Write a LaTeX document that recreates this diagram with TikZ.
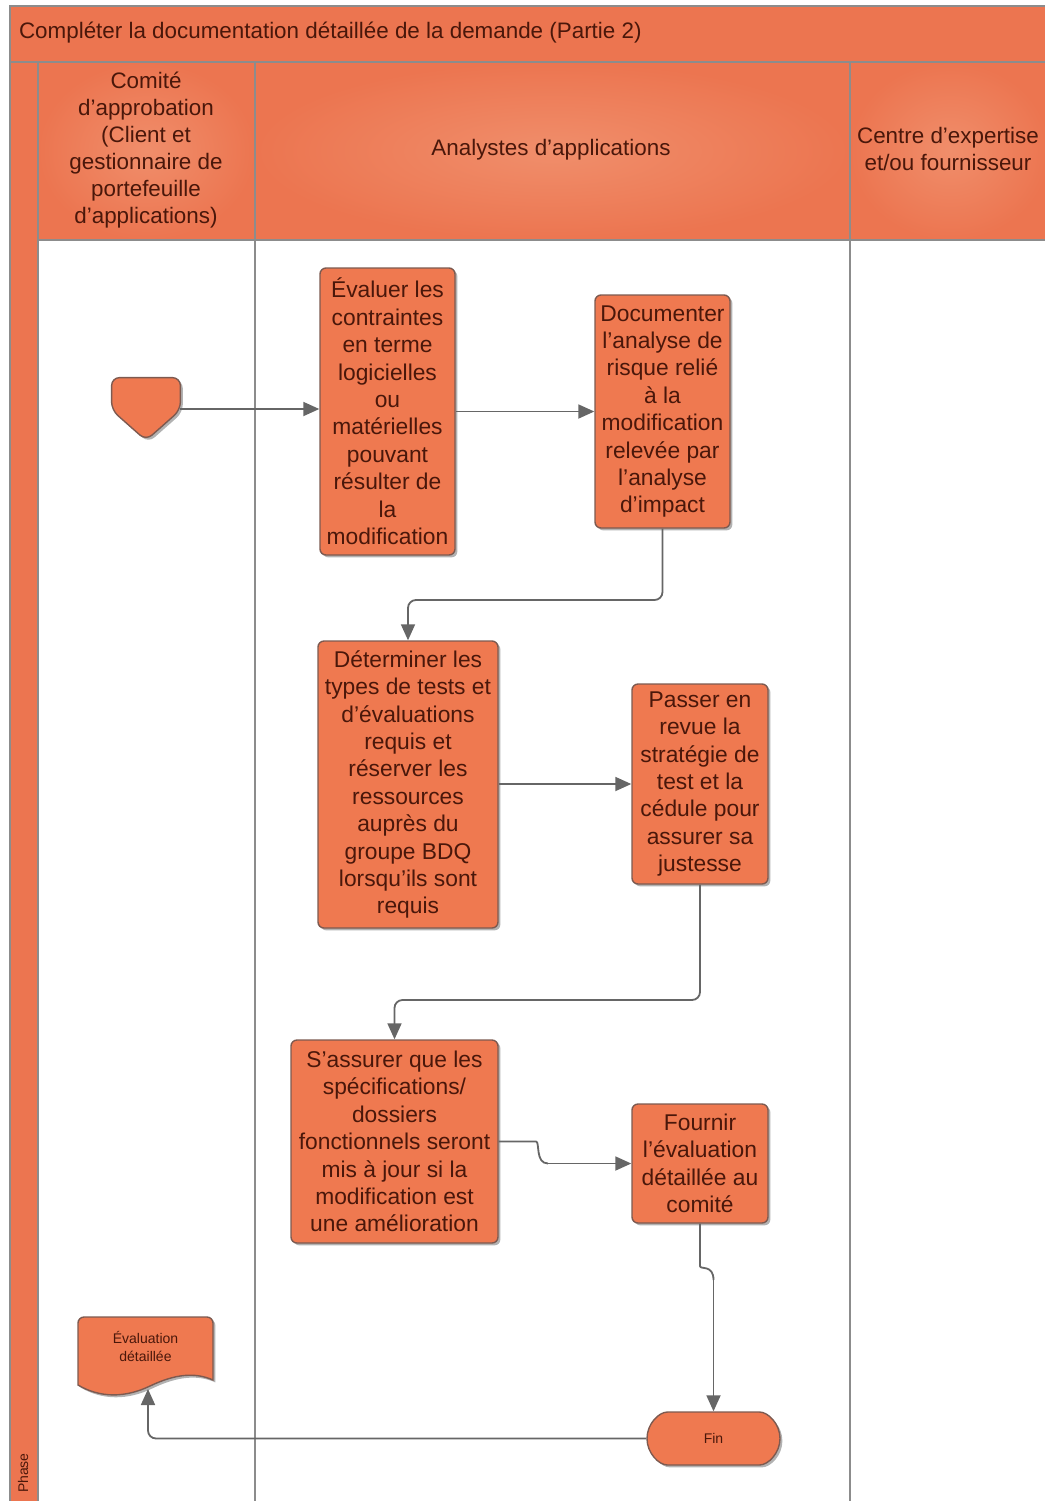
\documentclass[tikz,border=0pt]{standalone}
\usepackage{fontspec}
\setmainfont{Liberation Sans}
\usetikzlibrary{arrows.meta,shapes.misc,shadows,calc}
\definecolor{lanefill}{HTML}{EC7550}
\definecolor{headlight}{HTML}{F08E6B}
\definecolor{boxfill}{HTML}{EF7950}
\definecolor{boxline}{HTML}{7D5A50}
\definecolor{inktext}{HTML}{4A170A}
\definecolor{wire}{HTML}{666666}
\definecolor{frameline}{HTML}{8C8C8C}

\begin{document}
\begin{tikzpicture}[x=0.5pt,y=-0.5pt,
  boxshadow/.style={drop shadow={shadow xshift=1.2pt,shadow yshift=-1.2pt,fill=black,opacity=0.3}},
  task/.style={draw=boxline,line width=0.7pt,fill=boxfill,rounded corners=3pt,
    align=center,text=inktext,font=\fontsize{11.4}{13.7}\selectfont,
    inner sep=1pt,boxshadow},
  smalltext/.style={text=inktext,font=\fontsize{7}{9}\selectfont,align=center},
  headtext/.style={text=inktext,font=\fontsize{11.2}{13.5}\selectfont,align=center},
  laneline/.style={draw=frameline,line width=0.7pt},
  conn/.style={draw=wire,line width=0.9pt,rounded corners=4pt,
    -{Triangle[length=8pt,width=7pt]}},
  wire/.style={draw=wire,line width=0.9pt,rounded corners=4pt}]
\useasboundingbox (0,0) rectangle (1045,1501);

% ---- pool frame: title band, phase strip, lane headers
\fill[lanefill] (10,6) rectangle (1050,62);
\fill[lanefill] (10,62) rectangle (38,1505);
\shade[inner color=headlight,outer color=lanefill] (38,62) rectangle (255,240);
\shade[inner color=headlight,outer color=lanefill] (255,62) rectangle (850,240);
\shade[inner color=headlight,outer color=lanefill] (850,62) rectangle (1050,240);
\draw[laneline] (1050,6) -- (10,6) -- (10,1505);
\draw[laneline] (10,62) -- (1050,62);
\draw[laneline] (38,62) -- (38,1505);
\draw[laneline] (38,240) -- (1050,240);
\draw[laneline] (255,62) -- (255,1505);
\draw[laneline] (850,62) -- (850,1505);

\node[headtext,anchor=west] (title) at (12,33)
  {Compléter la documentation détaillée de la demande (Partie 2)};
\node[headtext] (lane1) at (146,150)
  {Comité\\d’approbation\\(Client et\\gestionnaire de\\portefeuille\\d’applications)};
\node[headtext] (lane2) at (551,150) {Analystes d’applications};
\node[headtext] (lane3) at (948,149) {Centre d’expertise\\et/ou fournisseur};
\node[smalltext,rotate=90,anchor=west] (phase) at (23,1500) {Phase};

% ---- start connector (off-page pentagon)
\node[minimum width=34pt,minimum height=31pt,inner sep=0pt] (start) at (146,409) {};
\path[draw=boxline,line width=0.7pt,fill=boxfill,rounded corners=4pt,boxshadow]
  (start.north west) -- (start.north east) -- ($(start.east)+(0,1)$)
  -- (start.south) -- ($(start.west)+(0,1)$) -- cycle;

% ---- activities
\node[task,minimum width=67.5pt,minimum height=143.5pt] (eval) at (387.5,411.5)
  {Évaluer les\\contraintes\\en terme\\logicielles\\ou\\matérielles\\pouvant\\résulter de\\la\\modification};
\node[task,minimum width=67.5pt,minimum height=116.5pt] (risk) at (662.5,411.5)
  {Documenter\\l’analyse de\\risque relié\\à la\\modification\\relevée par\\l’analyse\\d’impact};
\node[task,minimum width=90pt,minimum height=143.5pt] (tests) at (408,784.5)
  {Déterminer les\\types de tests et\\d’évaluations\\requis et\\réserver les\\ressources\\auprès du\\groupe BDQ\\lorsqu’ils sont\\requis};
\node[task,minimum width=68pt,minimum height=100pt] (review) at (700,784)
  {Passer en\\revue la\\stratégie de\\test et la\\cédule pour\\assurer sa\\justesse};
\node[task,minimum width=103.5pt,minimum height=101.5pt] (specs) at (394.5,1141.5)
  {S’assurer que les\\spécifications/\\dossiers\\fonctionnels seront\\mis à jour si la\\modification est\\une amélioration};
\node[task,minimum width=68pt,minimum height=59.5pt] (give) at (700,1163.5)
  {Fournir\\l’évaluation\\détaillée au\\comité};
\node[task,rounded rectangle,minimum width=68.5pt,minimum height=26.5pt,
  font=\fontsize{7}{9}\selectfont] (fin) at (713.5,1438.5) {Fin};

% ---- document artefact
\node[minimum width=67.5pt,minimum height=36.5pt,inner sep=0pt] (doc) at (145.5,1353.5) {};
\path[draw=boxline,line width=0.7pt,fill=boxfill,boxshadow]
  (84,1317) -- (207,1317) arc[start angle=90,end angle=0,radius=3pt]
  -- (213,1380)
  .. controls (195,1372) and (175,1374) .. (150,1386)
  .. controls (125,1398) and (100,1398) .. (78,1385)
  -- (78,1323) arc[start angle=180,end angle=90,radius=3pt] -- cycle;
\node[smalltext] (doctext) at (145.5,1346) {Évaluation\\détaillée};

% ---- connectors
\draw[conn] (start.east) -- (start.east -| eval.west);
\draw[conn] (eval.east |- risk.west) -- (risk.west);
\draw[conn] (risk.south) -- (risk.south |- 0,600) -| (tests.north);
\draw[conn] (tests.east |- review.west) -- (review.west);
\draw[conn] (review.south) -- (review.south |- 0,1000) -| (specs.north);
\draw[wire] (specs.east) -- (528,1141.5)
  .. controls (540,1141.5) and (535,1163.5) .. (548,1163.5);
\draw[conn] (548,1163.5) -- (give.west);
\draw[wire] (give.south) -- (700,1258)
  .. controls (700,1270) and (713.5,1264) .. (713.5,1280);
\draw[conn] (713.5,1280) -- (fin.north);
\draw[conn] (fin.west) -| (148,1389);
\end{tikzpicture}
\end{document}
